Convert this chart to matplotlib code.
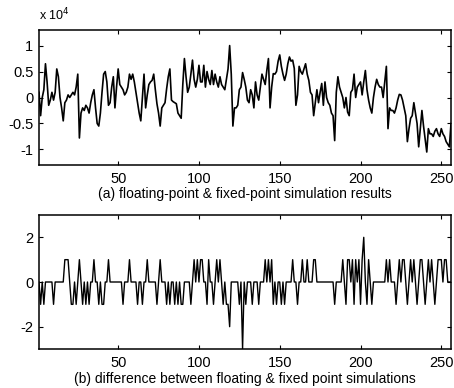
import numpy as np
import matplotlib
matplotlib.use("Agg")
import matplotlib.pyplot as plt

plt.rcParams['font.family'] = ['Liberation Sans', 'DejaVu Sans']
plt.rcParams['axes.unicode_minus'] = False

# simulation output, in units of 1e4
sim_result = [
    0.10, -0.35, 0.00, 0.15, 0.65, 0.30, -0.15, -0.05, 0.10, -0.05,
    0.10, 0.55, 0.40, 0.00, -0.20, -0.45, -0.10, -0.05, 0.05, 0.00,
    0.05, 0.10, 0.05, 0.20, 0.45, -0.78, -0.30, -0.20, -0.25, -0.15,
    -0.20, -0.30, -0.10, 0.05, 0.15, -0.20, -0.50, -0.55, -0.30, 0.10,
    0.45, 0.50, 0.30, -0.15, -0.10, 0.20, 0.40, -0.20, 0.20, 0.55,
    0.25, 0.20, 0.15, 0.05, 0.10, 0.20, 0.45, 0.35, 0.45, 0.30,
    0.10, -0.10, -0.30, -0.45, 0.00, 0.45, -0.20, 0.05, 0.25, 0.30,
    0.33, 0.45, 0.15, -0.12, -0.30, -0.55, -0.20, -0.15, -0.10, 0.17,
    0.40, 0.55, -0.05, -0.08, -0.10, -0.12, -0.30, -0.35, -0.40, 0.25,
    0.75, 0.40, 0.10, 0.20, 0.45, 0.72, 0.35, 0.20, 0.35, 0.62,
    0.30, 0.30, 0.62, 0.20, 0.50, 0.35, 0.25, 0.52, 0.25, 0.45,
    0.30, 0.20, 0.40, 0.25, 0.20, 0.15, 0.35, 0.55, 1.00, 0.45,
    -0.55, -0.20, -0.20, -0.15, 0.15, 0.20, 0.48, 0.35, 0.20, -0.05,
    -0.10, 0.15, 0.05, -0.20, 0.30, 0.05, -0.05, 0.20, 0.45, 0.35,
    0.25, 0.52, 0.75, -0.20, 0.20, 0.46, 0.45, 0.50, 0.70, 0.82,
    0.60, 0.45, 0.33, 0.45, 0.65, 0.78, 0.70, 0.72, 0.56, -0.15,
    0.05, 0.60, 0.50, 0.45, 0.55, 0.65, 0.45, 0.33, 0.10, 0.05,
    -0.35, -0.10, 0.15, -0.10, 0.10, 0.27, -0.15, 0.30, 0.00, -0.10,
    -0.15, -0.30, -0.35, -0.83, 0.10, 0.40, 0.20, 0.10, 0.00, -0.20,
    0.00, -0.28, -0.35, 0.10, 0.15, 0.45, 0.00, 0.20, 0.25, 0.30,
    0.05, 0.30, 0.52, 0.15, -0.05, -0.20, -0.30, 0.00, 0.20, 0.35,
    0.25, 0.20, 0.20, 0.00, 0.30, 0.60, -0.60, -0.20, -0.25, -0.25,
    -0.30, -0.20, -0.05, 0.06, 0.05, -0.05, -0.20, -0.35, -0.85, -0.60,
    -0.40, -0.35, -0.10, -0.30, -0.50, -0.95, -0.60, -0.25, -0.55, -0.80,
    -1.05, -0.60, -0.70, -0.70, -0.75, -0.65, -0.60, -0.70, -0.75, -0.60,
    -0.70, -0.75, -0.85, -0.90, -0.95, -0.50,
]

# floating minus fixed point difference
sim_diff = [
    0, -1, 0, -1, 0, 0, 0, 0, 0, -1,
    0, 0, 0, 0, 0, 0, 1, 1, 1, 0,
    -1, -1, 0, -1, 0, 1, 0, -1, 0, -1,
    0, -1, 0, 0, 1, 0, 0, -1, 0, -1,
    -1, 0, 0, 1, 0, 0, 0, 0, 0, 0,
    0, 0, -1, 0, 0, 0, 1, 0, 0, 0,
    0, -1, 0, 0, -1, 0, 0, 1, 0, 0,
    0, 0, 0, -1, 0, 1, 0, 0, 0, -1,
    0, -1, 0, 0, -1, 0, -1, 0, -1, -1,
    0, 0, 0, 0, -1, 0, 1, 0, 1, 0,
    1, 1, 0, 0, -1, 1, 0, 0, -1, 0,
    1, 0, 1, 0, -1, 0, -1, -1, -2, 0,
    0, 0, 0, 0, -1, 0, -3, 0, -1, 0,
    0, 0, -1, 0, 0, 0, -1, 0, 0, 0,
    1, 0, 1, 0, 1, -1, 0, -1, 0, 0,
    -1, 0, -1, 0, 0, 0, 0, 1, 0, 0,
    -1, 0, 0, 1, 0, 0, 1, 0, 0, 0,
    1, 1, 0, 0, 0, 0, 0, 0, 0, 0,
    0, 0, 0, -1, 0, 0, 0, 0, 1, 0,
    -1, 1, 1, 0, 1, -1, 1, 0, 1, -1,
    1, 2, 0, -1, 1, 0, -1, 0, 0, 0,
    0, 0, 0, 0, 0, 1, 0, 1, 0, 0,
    0, -1, 0, 1, 0, 1, 1, 0, -1, 0,
    1, 0, 1, 0, -1, 0, 1, 1, 0, -1,
    0, 1, 0, 1, 0, -1, 0, 1, 1, 1,
    0, 1, 1, 0, 0, 0,
]

n = np.arange(1, len(sim_result) + 1)

fig = plt.figure(figsize=(4.54, 3.88), dpi=100)
ax1 = fig.add_axes([39 / 454, 223 / 388, 412 / 454, 135 / 388])
ax2 = fig.add_axes([39 / 454, 39 / 388, 412 / 454, 134 / 388])

ax1.plot(n, sim_result, color='black', lw=1.2)
ax1.set_ylim(-1.3, 1.3)
ax1.set_yticks([-1, -0.5, 0, 0.5, 1])
ax1.set_yticklabels(['-1', '-0.5', '0', '0.5', '1'])

ax2.plot(n, sim_diff, color='black', lw=1.0)
ax2.set_ylim(-3, 3)
ax2.set_yticks([-2, 0, 2])

for ax in (ax1, ax2):
    ax.set_xlim(1, 256)
    ax.set_xticks([50, 100, 150, 200, 250])
    ax.tick_params(direction='in', top=True, right=True, labelsize=10.5,
                   length=3, width=0.8)
    ax.tick_params(axis='x', pad=5)
    ax.tick_params(axis='y', pad=4)
    for s in ax.spines.values():
        s.set_linewidth(1.1)

fig.text(39 / 454, 1 - 23 / 388, 'x 10$^4$', fontsize=9, ha='left', va='bottom')
fig.text(245 / 454, 1 - 194 / 388, '(a) floating-point & fixed-point simulation results',
         fontsize=10, ha='center', va='center')
fig.text(245 / 454, 1 - 379 / 388, '(b) difference between floating & fixed point simulations',
         fontsize=10, ha='center', va='center')

fig.savefig('out.png', dpi=100)
